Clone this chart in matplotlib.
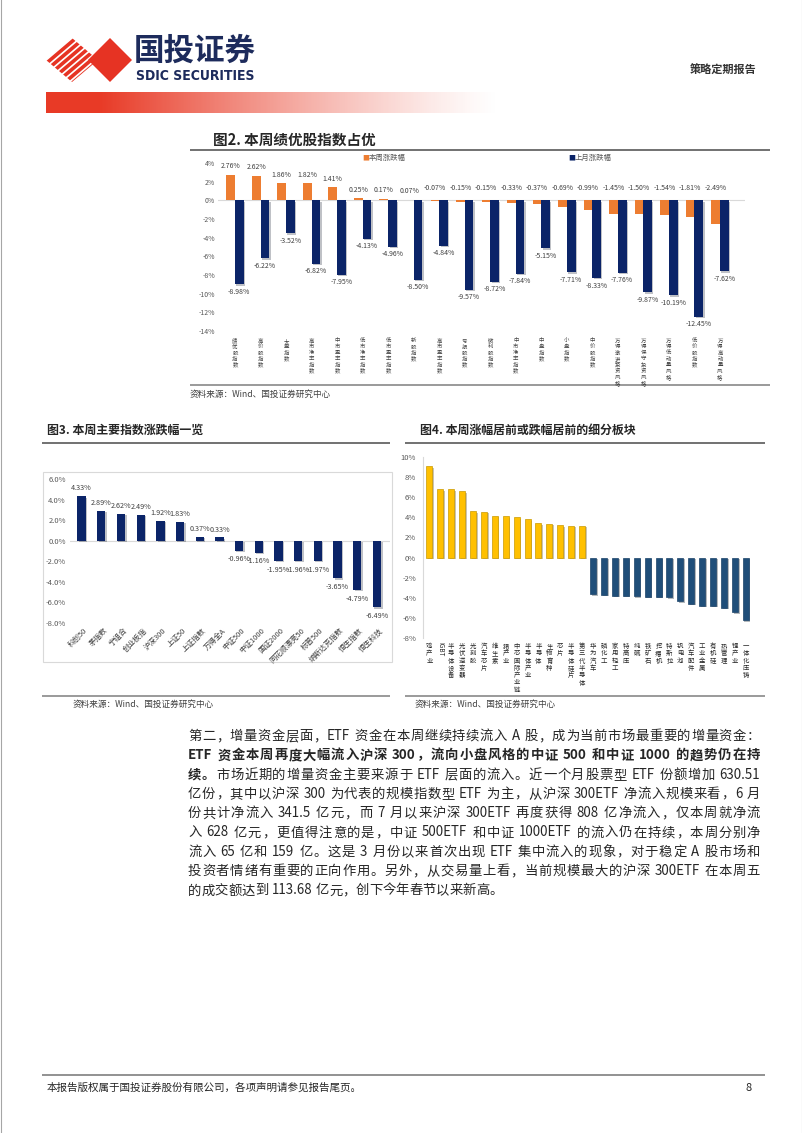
import re
import numpy as np
import matplotlib
matplotlib.use('Agg')
import matplotlib.pyplot as plt
import matplotlib.patheffects as pe
from matplotlib.patches import Polygon, Rectangle
from matplotlib.font_manager import FontProperties

FAM = ['Noto Sans CJK SC', 'DejaVu Sans']
plt.rcParams['font.family'] = FAM
plt.rcParams['axes.unicode_minus'] = False

W, H = 802, 1133

# ---- 图2 数据 ----
cats2 = ['绩优股指数', '高价股指数', '大盘指数', '高市净率指数', '中市盈率指数', '低市净率指数',
         '低市盈率指数', '新股指数', '高市盈率指数', '亏损股指数', '微利股指数', '中市净率指数',
         '中盘指数', '小盘指数', '中价股指数', '万得激进投资风格', '万得保守投资风格',
         '万得低动量风格', '低价股指数', '万得高动量风格']
week2 = [2.76, 2.62, 1.86, 1.82, 1.41, 0.25, 0.17, 0.07, -0.07, -0.15, -0.15, -0.33,
         -0.37, -0.69, -0.99, -1.45, -1.50, -1.54, -1.81, -2.49]
month2 = [-8.98, -6.22, -3.52, -6.82, -7.95, -4.13, -4.96, -8.50, -4.84, -9.57, -8.72,
          -7.84, -5.15, -7.71, -8.33, -7.76, -9.87, -10.19, -12.45, -7.62]
series2 = ['本周涨跌幅', '上月涨跌幅']
yticks2 = list(range(-14, 5, 2))

# ---- 图3 数据 ----
cats3 = ['科创50', '茅指数', '宁组合', '创业板指', '沪深300', '上证50', '上证指数', '万得全A',
         '中证500', '中证1000', '国证2000', '同花顺漂亮50', '标普500', '纳斯达克指数',
         '恒生指数', '恒生科技']
vals3 = [4.33, 2.89, 2.62, 2.49, 1.92, 1.83, 0.37, 0.33, -0.96, -1.16, -1.95, -1.96,
         -1.97, -3.65, -4.79, -6.49]
yticks3 = list(range(-8, 7, 2))

# ---- 图4 数据 ----
cats4 = ['鸡产业', 'IGBT', '半导体设备', '光伏逆变器', '光刻胶', '汽车芯片', '维生素', '猪产业',
         '中芯国际产业链', '半导体产业', '半导体', '生物育种', '芯片', '半导体硅片', '第三代半导体',
         '华为汽车', '磷化工', '家用轻工', '特高压', '纯碱', '铁矿石', '挖掘机', '特斯拉',
         '钒电池', '汽车配件', '工业金属', '有机硅', '热管理', '锂产业', '一体化压铸']
vals4 = [9.1, 6.8, 6.8, 6.6, 4.64, 4.55, 4.15, 4.1, 4.0, 3.85, 3.45, 3.38, 3.22, 3.16, 3.18,
         -3.64, -3.7, -3.8, -3.8, -3.84, -3.9, -3.9, -3.97, -4.34, -4.57, -4.77, -4.8,
         -5.0, -5.4, -6.22]
yticks4 = list(range(-8, 11, 2))

# ---- 正文 ----
para = [
    [('第二，增量资金层面，ETF 资金在本周继续持续流入 A 股，成为当前市场最重要的增量资金：', 'normal')],
    [('ETF 资金本周再度大幅流入沪深 300，流向小盘风格的中证 500 和中证 1000 的趋势仍在持', 'bold')],
    [('续。', 'bold'), ('市场近期的增量资金主要来源于 ETF 层面的流入。近一个月股票型 ETF 份额增加 630.51', 'normal')],
    [('亿份，其中以沪深 300 为代表的规模指数型 ETF 为主，从沪深 300ETF 净流入规模来看，6 月', 'normal')],
    [('份共计净流入 341.5 亿元，而 7 月以来沪深 300ETF 再度获得 808 亿净流入，仅本周就净流', 'normal')],
    [('入 628 亿元，更值得注意的是，中证 500ETF 和中证 1000ETF 的流入仍在持续，本周分别净', 'normal')],
    [('流入 65 亿和 159 亿。这是 3 月份以来首次出现 ETF 集中流入的现象，对于稳定 A 股市场和', 'normal')],
    [('投资者情绪有重要的正向作用。另外，从交易量上看，当前规模最大的沪深 300ETF 在本周五', 'normal')],
    [('的成交额达到 113.68 亿元，创下今年春节以来新高。', 'normal')],
]

ORANGE = '#ED7D31'
NAVY = '#0B2468'
YELLOW = '#FFC000'
BLUE4 = '#1F4E79'
GRAY = '#595959'

fig = plt.figure(figsize=(W / 100, H / 100), dpi=100)
fig.patch.set_facecolor('white')

ax0 = fig.add_axes([0, 0, 1, 1])
ax0.set_xlim(0, W)
ax0.set_ylim(H, 0)
ax0.axis('off')


def px_axes(l, t, r, b):
    return fig.add_axes([l / W, 1 - b / H, (r - l) / W, (b - t) / H])


def hline(y, x0, x1, color='#7F7F7F', lw=1.1):
    ax0.plot([x0, x1], [y, y], color=color, lw=lw, solid_capstyle='butt')


def stack_label(ax, i, y_top, label, size, step, color='#404040'):
    # 竖排标签：逐字放置
    xpx = ax.transData.transform((i, 0))[0]
    if label.isascii():
        ax0.text(xpx, y_top - step / 2, label, rotation=270, ha='center', va='top',
                 fontsize=size, color=color)
        return
    for k, ch in enumerate(label):
        ax0.text(xpx, y_top + k * step, ch, ha='center', va='center', fontsize=size, color=color)


# ---- 页眉 ----
red = '#E63323'
left_d = [(46, 60), (72, 38), (98, 60), (72, 82)]
clip = Polygon(left_d, closed=True, facecolor='none', edgecolor='none')
ax0.add_patch(clip)
for c in np.arange(-30, 34, 8.2):
    ln, = ax0.plot([72 + c - 40, 72 + c + 40], [60 + 34, 60 - 34], color=red, lw=2.6)
    ln.set_clip_path(clip)
ax0.add_patch(Polygon([(88, 60), (110, 38), (132, 60), (110, 82)], closed=True,
                      facecolor=red, edgecolor='none'))
ax0.text(134, 51, '国投证券', fontsize=22, fontweight='bold', color='#1D2B5C', va='center', ha='left')
ax0.text(136, 76, 'SDIC SECURITIES', fontsize=10, fontweight='bold', color='#1D2B5C',
         va='center', ha='left', family='DejaVu Sans', stretch='condensed')
ax0.text(757, 70, '策略定期报告', fontsize=8, fontweight='bold', color='#333333', va='center', ha='right')

t = np.linspace(0, 1, 400)
alpha = np.clip((1 - t) / 0.88, 0, 1) ** 1.25
grad = np.zeros((1, 400, 4))
grad[..., 0], grad[..., 1], grad[..., 2] = 0.91, 0.23, 0.15
grad[..., 3] = alpha
ax0.imshow(grad, extent=(46, 500, 113, 92), aspect='auto', interpolation='bilinear')
ax0.plot([0.5, 0.5], [0, H], color='#A6A6A6', lw=0.8)
ax0.plot([801.5, 801.5], [0, H], color='#A6A6A6', lw=0.8)
ax0.set_xlim(0, W)
ax0.set_ylim(H, 0)

# ---- 图2 ----
ax0.text(213, 140, '图2. 本周绩优股指数占优', fontsize=10.5, fontweight='bold', color='#262626', va='center')
hline(150, 190, 770, '#595959', 1.2)
ax0.text(362, 158, '■', fontsize=5, color=ORANGE, va='center')
ax0.text(369, 158, series2[0], fontsize=5.3, color=GRAY, va='center')
ax0.text(568, 158, '■', fontsize=5, color=NAVY, va='center')
ax0.text(575, 158, series2[1], fontsize=5.3, color=GRAY, va='center')

ax2 = px_axes(218, 163, 745, 331)
x2 = np.arange(len(cats2))
bw = 0.34
ax2.bar(x2 - bw / 2, week2, bw, color=ORANGE, zorder=2)
b2 = ax2.bar(x2 + bw / 2, month2, bw, color=NAVY, zorder=2)
for b in b2:
    b.set_path_effects([pe.SimplePatchShadow(offset=(1, -1), alpha=0.25), pe.Normal()])
ax2.axhline(0, color='#D9D9D9', lw=0.8, zorder=1)
ax2.set_ylim(-14, 4)
ax2.set_xlim(-0.666, 19.98)
ax2.set_yticks(yticks2)
ax2.set_yticklabels([f'{v}%' for v in yticks2])
ax2.set_xticks([])
ax2.tick_params(axis='y', length=0, labelsize=5, colors=GRAY, pad=2)
for s in ax2.spines.values():
    s.set_visible(False)
ax2.patch.set_alpha(0)
for i, (a, b) in enumerate(zip(week2, month2)):
    ya = a + 0.9 if a > 0 else 1.3
    ax2.text(i - bw / 2, ya, f'{a:.2f}%', ha='center', va='center', fontsize=5, color='#404040')
    ax2.text(i + bw / 2, b - 0.8, f'{b:.2f}%', ha='center', va='center', fontsize=5, color='#404040')
    stack_label(ax2, i, 341, cats2[i], 3.9, 6.0)
hline(385, 190, 770)
ax0.text(190, 394, '资料来源：Wind、国投证券研究中心', fontsize=6.2, color='#404040', va='center', style='italic')

# ---- 图3 ----
ax0.text(47, 430, '图3. 本周主要指数涨跌幅一览', fontsize=8.6, fontweight='bold', color='#262626', va='center')
hline(443, 42, 390, '#595959', 1.2)
ax0.add_patch(Rectangle((43, 472), 349, 190, facecolor='none', edgecolor='#D9D9D9', lw=0.8))
ax3 = px_axes(70, 479, 390, 623)
x3 = np.arange(len(cats3))
b3 = ax3.bar(x3, vals3, 0.42, color=NAVY, zorder=2)
for b in b3:
    b.set_path_effects([pe.SimplePatchShadow(offset=(1, -1), alpha=0.25), pe.Normal()])
ax3.axhline(0, color='#D9D9D9', lw=0.8, zorder=1)
ax3.set_ylim(-8, 6)
ax3.set_xlim(-0.59, 15.66)
ax3.set_yticks(yticks3)
ax3.set_yticklabels([f'{v:.1f}%' for v in yticks3])
ax3.set_xticks([])
ax3.tick_params(axis='y', length=0, labelsize=5.5, colors=GRAY, pad=3)
for s in ax3.spines.values():
    s.set_visible(False)
ax3.patch.set_alpha(0)
for i, v in enumerate(vals3):
    yy = v + 0.75 if v > 0 else v - 0.85
    ax3.text(i, yy, f'{v:.2f}%', ha='center', va='center', fontsize=5.2, color='#404040')
    ax3.text(i + 0.1, -8.35, cats3[i], rotation=45, ha='right', va='top', rotation_mode='anchor',
             fontsize=5.4, color='#404040', clip_on=False)

# ---- 图4 ----
ax0.text(420, 430, '图4. 本周涨幅居前或跌幅居前的细分板块', fontsize=8.6, fontweight='bold', color='#262626', va='center')
hline(443, 405, 765, '#595959', 1.2)
ax4 = px_axes(423, 457, 760, 638)
x4 = np.arange(len(cats4))
cols4 = [YELLOW if v > 0 else BLUE4 for v in vals4]
edges4 = ['#C99A00' if v > 0 else '#1A4268' for v in vals4]
b4 = ax4.bar(x4, vals4, 0.55, color=cols4, edgecolor=edges4, lw=0.5, zorder=2)
for b in b4:
    b.set_path_effects([pe.SimplePatchShadow(offset=(1.2, -1.2), alpha=0.3), pe.Normal()])
ax4.set_ylim(-8, 10)
ax4.set_xlim(-0.58, 30.3)
ax4.set_yticks(yticks4)
ax4.set_yticklabels([f'{v}%' for v in yticks4])
ax4.set_xticks([])
ax4.tick_params(axis='y', length=0, labelsize=5.5, colors=GRAY, pad=5)
for k, s in ax4.spines.items():
    s.set_visible(k == 'left')
ax4.spines['left'].set_color('#D9D9D9')
ax4.spines['left'].set_linewidth(0.8)
ax4.patch.set_alpha(0)
for i, c in enumerate(cats4):
    stack_label(ax4, i, 646, c, 4.6, 7.3, '#262626')

hline(696, 42, 390)
hline(696, 405, 765)
ax0.text(73, 704, '资料来源：Wind、国投证券研究中心', fontsize=6.2, color='#404040', va='center', style='italic')
ax0.text(415, 704, '资料来源：Wind、国投证券研究中心', fontsize=6.2, color='#404040', va='center', style='italic')

# ---- 正文（两端对齐） ----
renderer = fig.canvas.get_renderer()
PSIZE = 9.6


def draw_line(segs, y, x0, x1, justify):
    toks = []
    for s, wt in segs:
        prop = FontProperties(family=FAM, size=PSIZE, weight=wt)
        for tk in re.findall(r'[A-Za-z0-9.]+| |.', s):
            if tk == ' ':
                w = 0.25 * PSIZE * 100 / 72
            else:
                w = renderer.get_text_width_height_descent(tk, prop, ismath=False)[0]
            toks.append((tk, wt, w))
    total = sum(w for _, _, w in toks)
    gap = (x1 - x0 - total) / (len(toks) - 1) if justify and len(toks) > 1 else 0
    x = x0
    for tk, wt, w in toks:
        if tk != ' ':
            ax0.text(x, y, tk, fontsize=PSIZE, fontweight=wt, color='#262626', va='center', ha='left')
        x += w + gap


for k, segs in enumerate(para):
    draw_line(segs, 736 + k * 19.3, 188, 760, k < len(para) - 1)

# ---- 页脚 ----
hline(1075, 42, 765, '#7F7F7F', 1.2)
ax0.text(47, 1088, '本报告版权属于国投证券股份有限公司，各项声明请参见报告尾页。', fontsize=7.6, color='#262626', va='center')
ax0.text(752, 1088, '8', fontsize=8, color='#262626', va='center', ha='right')

fig.savefig('out.png', dpi=100, facecolor='white')
